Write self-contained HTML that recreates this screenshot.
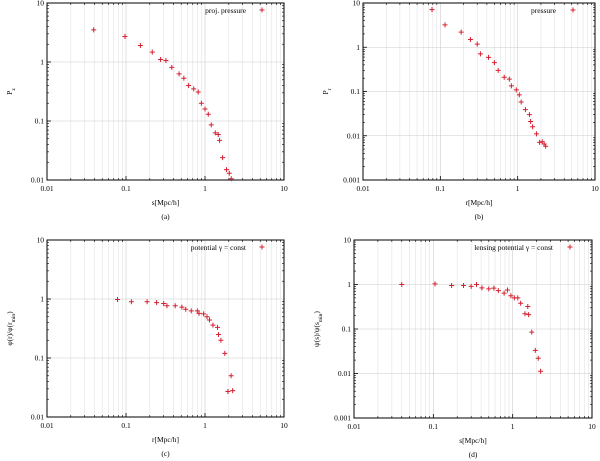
<!DOCTYPE html>
<html><head><meta charset="utf-8"><style>
body{margin:0;background:#fff}
svg{display:block;font-family:"Liberation Serif",serif}
</style></head><body>
<svg id="s" width="600" height="461" xmlns="http://www.w3.org/2000/svg"></svg>
<script>
const aX=[0.039,0.097,0.152,0.215,0.274,0.32,0.38,0.47,0.54,0.62,0.72,0.82,0.9,1.0,1.1,1.2,1.35,1.47,1.53,1.67,1.87,2.03,2.15];
const aY=[3.5,2.7,1.9,1.47,1.1,1.06,0.81,0.63,0.53,0.40,0.35,0.31,0.20,0.16,0.13,0.086,0.063,0.059,0.047,0.024,0.015,0.013,0.0105];
const bX=[0.078,0.115,0.186,0.245,0.30,0.33,0.42,0.50,0.56,0.67,0.78,0.83,0.96,1.05,1.11,1.26,1.42,1.47,1.56,1.75,1.92,2.08,2.2,2.3];
const bY=[7.1,3.2,2.2,1.5,1.18,0.71,0.59,0.45,0.30,0.21,0.19,0.134,0.109,0.084,0.058,0.039,0.030,0.021,0.016,0.011,0.0071,0.0073,0.0065,0.0058];
const cX=[0.078,0.117,0.185,0.244,0.30,0.33,0.42,0.51,0.57,0.67,0.80,0.84,0.96,1.06,1.14,1.26,1.44,1.48,1.59,1.78,1.95,2.14,2.24];
const cY=[0.98,0.90,0.90,0.87,0.84,0.77,0.77,0.73,0.67,0.63,0.63,0.57,0.56,0.50,0.44,0.36,0.33,0.25,0.20,0.12,0.027,0.050,0.028];
const dX=[0.040,0.105,0.17,0.24,0.30,0.35,0.41,0.50,0.58,0.66,0.78,0.86,0.95,1.05,1.16,1.26,1.43,1.55,1.59,1.74,1.93,2.10,2.25];
const dY=[1.0,1.03,0.95,0.95,0.91,1.0,0.84,0.80,0.83,0.73,0.64,0.75,0.56,0.50,0.50,0.38,0.22,0.32,0.21,0.085,0.033,0.022,0.0112];
const xTicks=["0.01","0.1","1","10"];
const NS="http://www.w3.org/2000/svg";
const svg=document.getElementById('s');
function el(t,a,p){const e=document.createElementNS(NS,t);for(const k in a)e.setAttribute(k,a[k]);(p||svg).appendChild(e);return e;}
function panel(id,x0,x1,y0,y1,ymin,ymax,xs,ys,xlab,ylab,leg,legX,cap){
  const g=el('g',{});
  
  
  const lx=v=>x0+(Math.log10(v)+2)/3*(x1-x0);
  const ly=v=>y1-(Math.log10(v)-Math.log10(ymin))/(Math.log10(ymax)-Math.log10(ymin))*(y1-y0);
  const lmin=Math.log10(ymin),lmax=Math.log10(ymax);
  for(let d=-2;d<1;d++)for(let m=2;m<10;m++){const v=m*Math.pow(10,d);const X=lx(v);el('line',{x1:X,x2:X,y1:y0,y2:y1,stroke:'#e2e2e2','stroke-width':0.6},g);el('line',{x1:X,x2:X,y1:y1,y2:y1-2,stroke:'#000','stroke-width':0.6},g);el('line',{x1:X,x2:X,y1:y0,y2:y0+2,stroke:'#000','stroke-width':0.6},g);}
  for(let d=lmin;d<lmax;d++)for(let m=2;m<10;m++){const Y=ly(m*Math.pow(10,d));el('line',{x1:x0,x2:x0+2,y1:Y,y2:Y,stroke:'#000','stroke-width':0.6},g);el('line',{x1:x1,x2:x1-2,y1:Y,y2:Y,stroke:'#000','stroke-width':0.6},g);}
  xTicks.forEach(t=>{const X=lx(+t);el('line',{x1:X,x2:X,y1:y0,y2:y1,stroke:'#ccc','stroke-width':0.6},g);el('line',{x1:X,x2:X,y1:y1,y2:y1-4,stroke:'#000','stroke-width':0.8},g);
    const tx=el('text',{x:X,y:y1+11,'font-size':7.5,'text-anchor':'middle'},g);tx.textContent=t;});
  for(let d=lmin;d<=lmax;d++){const v=Math.pow(10,d);const Y=ly(v);el('line',{x1:x0,x2:x1,y1:Y,y2:Y,stroke:'#ccc','stroke-width':0.6},g);el('line',{x1:x0,x2:x0+4,y1:Y,y2:Y,stroke:'#000','stroke-width':0.8},g);
    const tx=el('text',{x:x0-3,y:Y+2.5,'font-size':7.5,'text-anchor':'end'},g);tx.textContent=d<0?v.toFixed(-d):String(v);}
  const r=el('rect',{x:x0,y:y0,width:x1-x0,height:y1-y0,fill:'none',stroke:'#000','stroke-width':1},g);
  
  function plus(X,Y){const p=el('path',{d:`M${X-2.5},${Y}h5M${X},${Y-2.5}v5`,stroke:'#d62030','stroke-width':1,fill:'none'},g);return p;}
  xs.forEach((v,i)=>{const p=plus(lx(v),ly(ys[i]));});
  const lt=el('text',{x:legX,y:y0+10,'font-size':7.5,'text-anchor':'end'},g);lt.textContent=leg;
  const lm=plus(x1-22,y0+7);
  const xl=el('text',{x:(x0+x1)/2,y:y1+25,'font-size':7.5,'text-anchor':'middle'},g);xl.textContent=xlab;
  const yl=el('text',{x:0,y:0,'font-size':7.5,'text-anchor':'middle',transform:`translate(${x0-35},${(y0+y1)/2}) rotate(-90)`},g);yl.innerHTML=ylab;
  const c=el('text',{x:(x0+x1)/2,y:y1+39,'font-size':7.5,'text-anchor':'middle'},g);c.textContent=cap;
}
panel('a',47,284,3,180,0.01,10,aX,aY,'s[Mpc/h]','P<tspan baseline-shift="sub" font-size="5.5">z</tspan>','proj. pressure',246,'(a)');
panel('b',363,595,3,180,0.001,10,bX,bY,'r[Mpc/h]','P<tspan baseline-shift="sub" font-size="5.5">r</tspan>','pressure',556,'(b)');
panel('c',47,284,240,417,0.01,10,cX,cY,'r[Mpc/h]','φ(r)/φ(r<tspan baseline-shift="sub" font-size="5.5">min</tspan>)','potential γ = const',246,'(c)');
panel('d',354,592,240,418,0.001,10,dX,dY,'s[Mpc/h]','ψ(s)/ψ(s<tspan baseline-shift="sub" font-size="5.5">min</tspan>)','lensing potential γ = const',553,'(d)');
</script>
</body></html>
